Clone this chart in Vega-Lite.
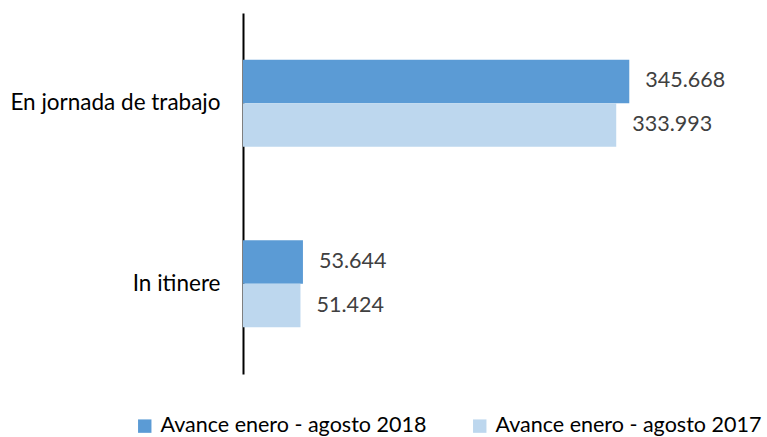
{
  "$schema": "https://vega.github.io/schema/vega-lite/v6.json",
  "width": 447,
  "height": 361,
  "autosize": {"type": "none"},
  "padding": {"left": 243, "top": 13, "right": 77, "bottom": 63},
  "config": {
    "view": {"stroke": null},
    "font": "Lato",
    "locale": {"number": {"decimal": ",", "thousands": ".", "grouping": [3], "currency": ["", "€"]}}
  },
  "data": {
    "values": [
      {"categoria": "En jornada de trabajo", "serie": "Avance enero - agosto 2018", "valor": 345668},
      {"categoria": "En jornada de trabajo", "serie": "Avance enero - agosto 2017", "valor": 333993},
      {"categoria": "In itinere", "serie": "Avance enero - agosto 2018", "valor": 53644},
      {"categoria": "In itinere", "serie": "Avance enero - agosto 2017", "valor": 51424}
    ]
  },
  "encoding": {
    "y": {
      "field": "categoria",
      "type": "nominal",
      "sort": ["En jornada de trabajo", "In itinere"],
      "scale": {"paddingInner": 0.518, "paddingOuter": 0.259},
      "axis": {"title": null, "ticks": false, "domainColor": "#000000", "domainWidth": 2, "labelFontSize": 22.5, "labelColor": "#000000", "labelPadding": 23, "labelLimit": 400}
    },
    "yOffset": {"field": "serie", "type": "nominal", "sort": ["Avance enero - agosto 2018", "Avance enero - agosto 2017"]},
    "x": {"field": "valor", "type": "quantitative", "scale": {"domain": [0, 400000]}, "axis": null}
  },
  "layer": [
    {
      "mark": {"type": "bar"},
      "encoding": {
        "color": {
          "field": "serie",
          "type": "nominal",
          "sort": ["Avance enero - agosto 2018", "Avance enero - agosto 2017"],
          "scale": {"range": ["#5B9BD5", "#BDD7EE"]},
          "legend": {
            "title": null,
            "orient": "none",
            "direction": "horizontal",
            "legendX": -109,
            "legendY": 402,
            "symbolType": "square",
            "symbolSize": 180,
            "symbolStrokeWidth": 0,
            "labelFontSize": 21.5,
            "labelColor": "#000000",
            "labelLimit": 400,
            "labelOffset": 5,
            "columnPadding": 42,
            "symbolOffset": 0
          }
        }
      }
    },
    {
      "mark": {"type": "text", "align": "left", "baseline": "middle", "dx": 16, "fontSize": 21.5, "color": "#404040"},
      "encoding": {"text": {"field": "valor", "type": "quantitative", "format": ",d"}}
    }
  ]
}
